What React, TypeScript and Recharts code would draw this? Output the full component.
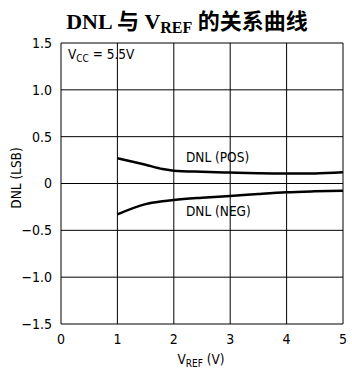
import { CartesianGrid, Line, LineChart, XAxis, YAxis } from 'recharts'

const vref = [1, 1.5, 1.8, 2, 2.5, 3, 3.5, 4, 4.5, 5]
const dnlPos = [0.27, 0.2, 0.155, 0.137, 0.125, 0.117, 0.11, 0.107, 0.108, 0.12]
const dnlNeg = [-0.33, -0.22, -0.19, -0.176, -0.152, -0.133, -0.112, -0.094, -0.084, -0.077]
const xTicks = [0, 1, 2, 3, 4, 5]
const yTicks = [-1.5, -1, -0.5, 0, 0.5, 1, 1.5]

const data = vref.map((v, i) => ({ v, pos: dnlPos[i], neg: dnlNeg[i] }))

const narrow = '"Liberation Sans Narrow", "DejaVu Sans", sans-serif'
const txt = { fontFamily: narrow, fontStretch: 'condensed', fontSize: 13.5, color: '#000' } as const
const tickStyle = { fill: '#000', fontSize: 14, fontFamily: narrow, style: { fontStretch: 'condensed' } }

const fmtY = (n: number) => {
  if (n === 0) return '0'
  const s = Math.abs(n).toFixed(1)
  return n < 0 ? `\u2212${s}` : s
}

export default function App() {
  return (
    <div style={{ position: 'absolute', left: 0, top: 0, width: 352, height: 368, background: '#fff' }}>
      <LineChart width={352} height={368} data={data} margin={{ top: 43, right: 9, bottom: 14, left: 9 }}>
        <CartesianGrid stroke="#000" strokeWidth={1} />
        <XAxis
          dataKey="v"
          type="number"
          domain={[0, 5]}
          ticks={xTicks}
          height={30}
          tickSize={0}
          tickMargin={10}
          axisLine={false}
          tick={tickStyle}
        />
        <YAxis
          type="number"
          domain={[-1.5, 1.5]}
          ticks={yTicks}
          width={52}
          tickSize={0}
          tickMargin={9}
          axisLine={false}
          tickFormatter={fmtY}
          tick={tickStyle}
        />
        <Line type="monotone" dataKey="pos" stroke="#000" strokeWidth={2.5} dot={false} isAnimationActive={false} />
        <Line type="monotone" dataKey="neg" stroke="#000" strokeWidth={2.5} dot={false} isAnimationActive={false} />
      </LineChart>

      <div
        style={{
          position: 'absolute', left: 11, top: 3, width: 352, textAlign: 'center',
          fontFamily: '"Liberation Serif", "Noto Sans CJK SC", serif', fontWeight: 'bold', fontSize: 22, color: '#000',
        }}
      >
        DNL 与 V<sub style={{ fontSize: 16, verticalAlign: -4 }}>REF</sub>{' '}
        <span style={{ fontFamily: '"Noto Sans CJK SC", sans-serif' }}>的关系曲线</span>
      </div>

      <div style={{ ...txt, position: 'absolute', left: 68, top: 46 }}>
        V<sub style={{ fontSize: 10, verticalAlign: -3 }}>CC</sub> = 5.5V
      </div>
      <div style={{ ...txt, position: 'absolute', left: 186, top: 149 }}>DNL (POS)</div>
      <div style={{ ...txt, position: 'absolute', left: 186, top: 203 }}>DNL (NEG)</div>
      <div
        style={{
          ...txt, position: 'absolute', left: 16, top: 178, transform: 'translate(-50%, -50%) rotate(-90deg)',
          whiteSpace: 'nowrap',
        }}
      >
        DNL (LSB)
      </div>
      <div
        style={{
          ...txt, position: 'absolute', left: 163, top: 351, width: 76, textAlign: 'center', whiteSpace: 'nowrap',
        }}
      >
        V<sub style={{ fontSize: 10, verticalAlign: -3 }}>REF</sub> (V)
      </div>
    </div>
  )
}
